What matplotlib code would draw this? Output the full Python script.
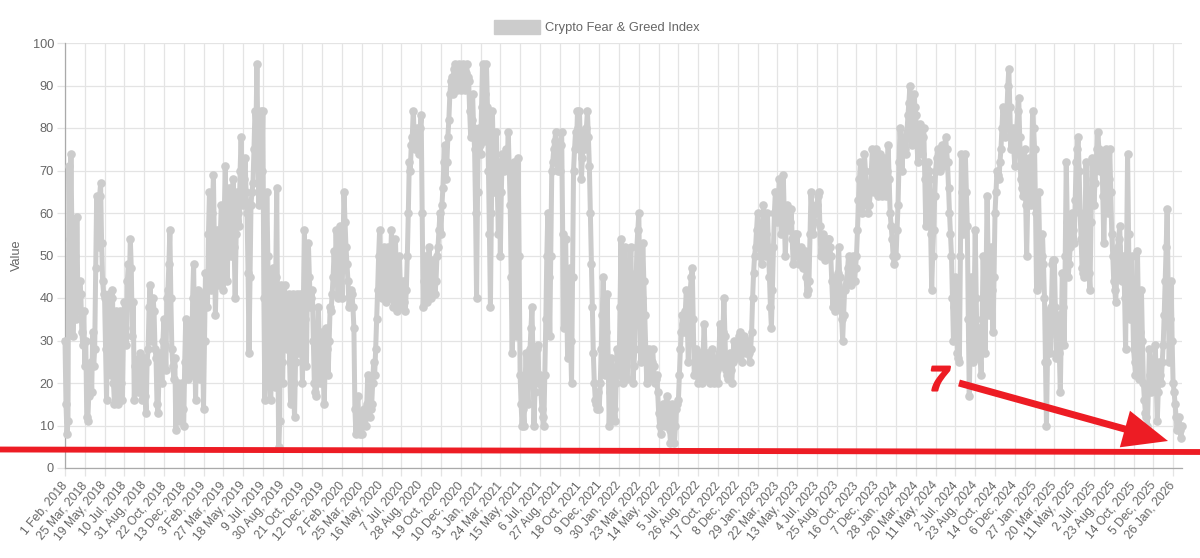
#!/usr/bin/python
"""Crypto Fear & Greed Index, hand read from the picture."""

import matplotlib
matplotlib.use('Agg')
import matplotlib.pyplot as plt
import matplotlib.patheffects as pe
from matplotlib.lines import Line2D
from matplotlib.patches import FancyArrowPatch, Patch

W, H = 1200, 558
GREY = '#cccccc'
RED = '#ed1c24'
TEXT = '#666666'
STEP = 20  # readings between two neighbouring tick labels

tick_labels = [
    '1 Feb, 2018', '25 Mar, 2018', '19 May, 2018', '10 Jul, 2018', '31 Aug, 2018',
    '22 Oct, 2018', '13 Dec, 2018', '3 Feb, 2019', '27 Mar, 2019', '18 May, 2019',
    '9 Jul, 2019', '30 Aug, 2019', '21 Oct, 2019', '12 Dec, 2019', '2 Feb, 2020',
    '25 Mar, 2020', '16 May, 2020', '7 Jul, 2020', '28 Aug, 2020', '19 Oct, 2020',
    '10 Dec, 2020', '31 Jan, 2021', '24 Mar, 2021', '15 May, 2021', '6 Jul, 2021',
    '27 Aug, 2021', '18 Oct, 2021', '9 Dec, 2021', '30 Jan, 2022', '23 Mar, 2022',
    '14 May, 2022', '5 Jul, 2022', '26 Aug, 2022', '17 Oct, 2022', '8 Dec, 2022',
    '29 Jan, 2023', '22 Mar, 2023', '13 May, 2023', '4 Jul, 2023', '25 Aug, 2023',
    '16 Oct, 2023', '7 Dec, 2023', '28 Jan, 2024', '20 Mar, 2024', '11 May, 2024',
    '2 Jul, 2024', '23 Aug, 2024', '14 Oct, 2024', '6 Dec, 2024', '27 Jan, 2025',
    '20 Mar, 2025', '11 May, 2025', '2 Jul, 2025', '23 Aug, 2025', '14 Oct, 2025',
    '5 Dec, 2025', '26 Jan, 2026',
]

values_2018 = [
    30, 15, 8, 11, 71, 54, 74, 55, 31, 40, 50, 35, 59, 40, 37, 44, 41, 32, 29, 37,
    24, 30, 12, 11, 17, 24, 25, 18, 32, 24, 28, 47, 64, 55, 52, 64, 67, 53, 44, 41,
    40, 28, 16, 36, 41, 25, 22, 40, 42, 20, 15, 35, 37, 18, 15, 33, 37, 20, 16, 30,
    39, 33, 29, 44, 48, 42, 54, 47, 31, 39, 16, 24, 25, 19, 18, 26, 27, 20, 16, 22,
    26, 17, 13, 25, 28, 38, 43, 34, 30, 40, 37, 28, 26, 15, 13, 22, 27, 24, 20, 30,
    35, 29, 23, 40, 42, 48, 56, 40, 28, 24, 21, 26, 9, 16, 20, 12, 11, 18, 20, 14,
    10, 25, 35, 24, 21, 30, 34, 26, 22, 40, 48, 30, 16, 30, 42, 24, 21, 37, 41, 30,
]
values_2019 = [
    14, 30, 46, 42, 38, 55, 65, 50, 42, 60, 69, 52, 36, 46, 56, 50, 43, 55, 62, 50,
    42, 60, 71, 55, 44, 58, 66, 55, 50, 62, 68, 52, 40, 55, 65, 60, 57, 70, 78, 68,
    62, 68, 73, 65, 60, 46, 27, 45, 62, 65, 67, 75, 84, 80, 95, 75, 62, 72, 84, 70,
    84, 40, 16, 45, 65, 50, 33, 20, 16, 30, 47, 25, 19, 45, 66, 30, 5, 11, 43, 25,
    20, 35, 43, 30, 28, 38, 41, 25, 15, 30, 41, 20, 12, 25, 41, 33, 27, 35, 41, 30,
    20, 40, 56, 35, 24, 42, 53, 45, 38, 40, 42, 30, 20, 18, 17, 28, 38, 30, 20, 30,
    32, 22, 15, 25, 33, 28, 22, 30, 38, 37, 41, 45, 51, 45, 56, 48, 40, 50, 57, 48,
]
values_2020 = [
    40, 52, 65, 58, 52, 48, 44, 38, 40, 42, 41, 38, 33, 14, 8, 12, 17, 11, 8, 12,
    8, 11, 14, 12, 10, 15, 22, 15, 12, 14, 15, 20, 25, 22, 28, 35, 42, 50, 56, 45,
    40, 45, 52, 42, 39, 44, 52, 46, 40, 48, 56, 45, 38, 46, 54, 44, 37, 42, 50, 42,
    38, 40, 44, 39, 37, 42, 50, 60, 72, 70, 76, 78, 84, 78, 75, 78, 80, 76, 74, 80,
    83, 60, 38, 44, 50, 42, 39, 45, 52, 44, 40, 46, 49, 44, 41, 44, 50, 52, 56, 60,
    55, 62, 66, 72, 76, 68, 72, 78, 82, 88, 91, 92, 88, 94, 95, 90, 89, 93, 95, 90,
    89, 93, 95, 90, 89, 93, 95, 92, 91, 84, 78, 82, 88, 80, 75, 60, 40, 65, 80, 76,
]
values_2021 = [
    74, 85, 95, 82, 77, 88, 95, 85, 70, 55, 38, 60, 84, 72, 65, 74, 79, 65, 55, 72,
    50, 65, 74, 72, 70, 73, 75, 72, 79, 70, 62, 45, 27, 50, 72, 55, 31, 50, 73, 50,
    22, 15, 10, 14, 10, 20, 27, 20, 15, 25, 28, 33, 38, 25, 10, 18, 25, 28, 29, 20,
    22, 18, 14, 12, 10, 22, 35, 50, 60, 45, 31, 50, 70, 72, 75, 77, 79, 74, 70, 72,
    70, 76, 79, 55, 33, 45, 54, 40, 26, 38, 47, 30, 20, 45, 70, 75, 79, 76, 84, 80,
    84, 75, 68, 73, 79, 77, 75, 80, 84, 78, 71, 60, 48, 38, 27, 20, 16, 15, 14, 18,
]
values_2022 = [
    14, 20, 28, 36, 45, 30, 22, 32, 41, 25, 10, 18, 26, 23, 20, 14, 11, 20, 28, 24,
    22, 38, 54, 35, 20, 36, 52, 35, 21, 30, 40, 46, 52, 35, 20, 24, 28, 40, 52, 56,
    60, 40, 25, 40, 53, 44, 36, 28, 20, 24, 28, 24, 21, 25, 28, 24, 20, 21, 22, 18,
    13, 10, 8, 12, 15, 12, 10, 14, 17, 15, 13, 9, 6, 10, 15, 10, 6, 10, 14, 15,
    16, 22, 28, 32, 36, 34, 32, 37, 42, 33, 25, 34, 42, 45, 47, 35, 22, 25, 28, 24,
    20, 24, 27, 23, 20, 27, 34, 27, 21, 24, 27, 23, 20, 24, 28, 24, 20, 23, 26, 23,
    20, 27, 34, 29, 24, 32, 40, 31, 23, 22, 21, 24, 27, 23, 20, 25, 30, 28, 26, 28,
]
values_2023 = [
    29, 31, 32, 28, 25, 28, 31, 29, 27, 29, 30, 27, 25, 28, 32, 40, 46, 50, 52, 56,
    60, 56, 53, 50, 48, 55, 62, 56, 50, 55, 60, 52, 45, 38, 33, 42, 52, 60, 65, 60,
    58, 63, 68, 60, 55, 62, 69, 60, 50, 56, 62, 58, 56, 58, 61, 54, 48, 52, 55, 52,
    55, 50, 48, 50, 52, 49, 47, 50, 51, 45, 41, 42, 44, 55, 65, 60, 55, 58, 60, 62,
    62, 64, 65, 57, 50, 53, 55, 52, 49, 51, 53, 54, 54, 52, 50, 44, 38, 40, 37, 45,
    38, 46, 52, 45, 40, 35, 30, 36, 42, 43, 44, 47, 50, 46, 43, 47, 50, 47, 44, 47,
    50, 56, 63, 68, 72, 65, 60, 67, 74, 70, 65, 62, 60, 62, 65, 70, 75, 70, 65, 70,
]
values_2024 = [
    75, 70, 64, 70, 74, 68, 64, 69, 73, 68, 64, 70, 76, 68, 60, 57, 54, 50, 48, 50,
    50, 56, 62, 72, 80, 75, 70, 75, 78, 75, 74, 79, 83, 86, 90, 83, 76, 82, 88, 85,
    83, 77, 72, 77, 81, 77, 74, 78, 80, 68, 57, 65, 72, 70, 68, 55, 42, 50, 56, 64,
    70, 73, 75, 72, 70, 73, 76, 73, 71, 75, 78, 75, 72, 66, 60, 55, 50, 40, 30, 38,
    45, 35, 27, 26, 25, 50, 74, 65, 55, 65, 74, 65, 57, 35, 17, 30, 45, 35, 25, 40,
    56, 40, 26, 30, 33, 27, 22, 35, 50, 38, 27, 45, 64, 50, 36, 44, 52, 42, 32, 45,
    60, 65, 70, 69, 68, 72, 75, 80, 85, 82, 78, 81, 84, 90, 94, 85, 75, 78, 80, 75,
]
values_2025 = [
    71, 76, 80, 84, 87, 78, 68, 66, 64, 70, 75, 62, 50, 62, 73, 68, 62, 72, 84, 80,
    75, 60, 42, 55, 65, 54, 43, 50, 55, 48, 40, 25, 10, 25, 37, 32, 27, 38, 48, 49,
    49, 38, 26, 31, 36, 27, 18, 32, 46, 38, 29, 50, 72, 58, 45, 48, 52, 56, 60, 56,
    53, 63, 72, 75, 78, 70, 60, 54, 47, 46, 45, 58, 72, 60, 50, 46, 42, 58, 73, 68,
    62, 67, 71, 75, 79, 75, 70, 72, 74, 64, 53, 64, 75, 68, 60, 68, 75, 65, 55, 50,
    44, 42, 39, 45, 52, 54, 57, 50, 44, 47, 50, 40, 28, 50, 74, 55, 35, 42, 50, 40,
    28, 25, 22, 36, 51, 36, 21, 32, 42, 30, 20, 16, 13, 12, 10, 18, 28, 22, 18, 20,
    20, 25, 29, 20, 11, 18, 25, 22, 20, 25, 29, 36, 44, 52, 61, 42, 25, 35, 44, 30,
]
values_2026 = [20, 18, 15, 12, 9, 10, 12, 9, 7, 10]

values = (values_2018 + values_2019 + values_2020 + values_2021 + values_2022
          + values_2023 + values_2024 + values_2025 + values_2026)


def px(x, y):
    """Picture pixels to figure fraction, y counted from the top."""
    return x / W, 1 - y / H


plt.rcParams['font.family'] = ['Liberation Sans', 'DejaVu Sans']

fig = plt.figure(figsize=(W / 100, H / 100), dpi=100)
ax = fig.add_axes([65 / W, 1 - 468 / H, (1182 - 65) / W, (468 - 43) / H])

ax.plot(range(len(values)), values, color=GREY, lw=3.6, marker='o', ms=6.2,
        mew=0, clip_on=False, zorder=3)

ax.set_xlim(0, 56.45 * STEP)
ax.set_ylim(0, 100)
ax.set_yticks(range(0, 101, 10))
ax.set_xticks(range(0, STEP * len(tick_labels), STEP))
ax.set_xticklabels(tick_labels, rotation=50, ha='right', va='center',
                   rotation_mode='anchor')
ax.grid(True, color='#e4e4e4', lw=0.9)
ax.set_axisbelow(True)
ax.tick_params(axis='both', length=6, width=0.9, color='#e4e4e4',
               labelcolor=TEXT, labelsize=9.2, pad=2)
ax.tick_params(axis='x', labelsize=8.7, pad=5)
ax.set_ylabel('Value', color=TEXT, fontsize=9.2, labelpad=7)

for side in ['top', 'right']:
    ax.spines[side].set_visible(False)
for side in ['left', 'bottom']:
    ax.spines[side].set_color('#aaaaaa')
    ax.spines[side].set_linewidth(0.9)

ax.legend(handles=[Patch(color=GREY, label='Crypto Fear & Greed Index')],
          loc='center', bbox_to_anchor=(597 / W, 1 - 27 / H),
          bbox_transform=fig.transFigure, frameon=False, fontsize=9.25,
          labelcolor=TEXT, handlelength=3.6, handleheight=1.3,
          handletextpad=0.4, borderpad=0)

# hand drawn markup on top of the chart
x0, y0 = px(0, 449.5)
x1, y1 = px(1200, 452)
fig.add_artist(Line2D([x0, x1], [y0, y1], color=RED, lw=4.2, zorder=10))

fig.add_artist(FancyArrowPatch(px(959, 383), px(1168, 441),
                               transform=fig.transFigure, color=RED, lw=0,
                               arrowstyle='simple,head_length=2.3,head_width=1.95,tail_width=0.36',
                               mutation_scale=14, shrinkA=0, shrinkB=0, zorder=10))

seven = fig.text(*px(939, 381), '7', color=RED, fontsize=25, fontweight='bold',
                 fontstyle='italic', ha='center', va='center', zorder=10)
seven.set_path_effects([pe.withStroke(linewidth=1.5, foreground=RED)])

fig.savefig('out.png', dpi=100)
